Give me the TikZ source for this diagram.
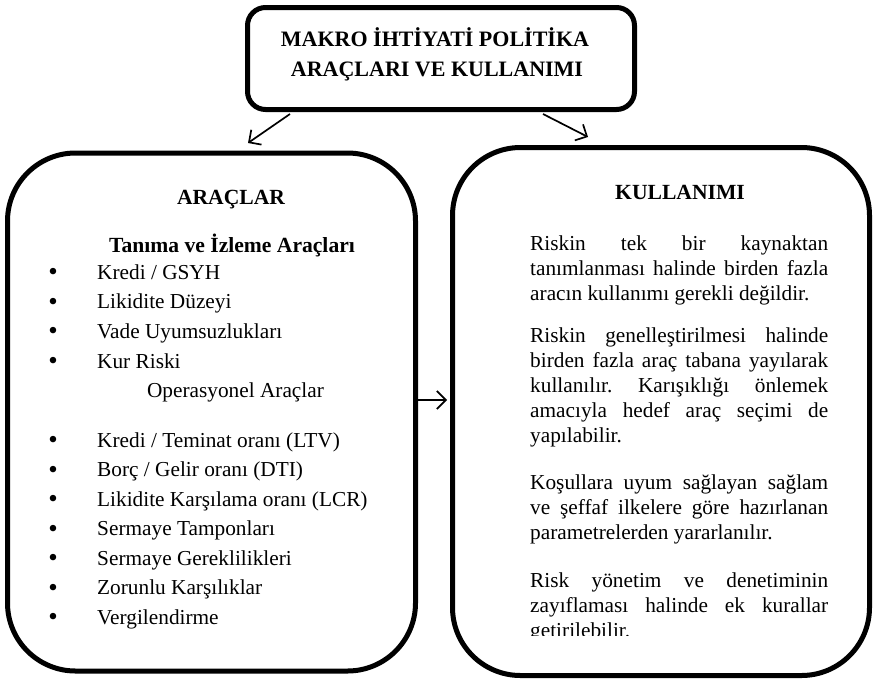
\documentclass[tikz,border=0pt]{standalone}
\usepackage{fontspec}
\setmainfont{Liberation Serif}
\usetikzlibrary{arrows.meta}
\frenchspacing
\begin{document}
\begin{tikzpicture}[x=1pt,y=-1pt,
  panel/.style={draw, line width=5pt, inner sep=0pt},
  link/.style={line width=1.7pt, -{Straight Barb[length=9pt,width=18pt,line width=1.7pt]}},
  txt/.style={inner sep=0pt, font=\fontsize{21.3}{25}\selectfont},
  head/.style={inner sep=0pt, font=\fontsize{21.6}{25}\selectfont\bfseries},
  title/.style={inner sep=0pt, font=\fontsize{22}{26}\selectfont\bfseries, anchor=base},
  item/.style={txt, anchor=base west},
  dot/.style={inner sep=0pt, font=\fontsize{27}{27}\selectfont, anchor=base},
  para/.style={txt, anchor=base west, text width=298pt, align=justify}
]
\useasboundingbox (0,0) rectangle (874,680);

% panels
\node[panel, rounded corners=18pt, minimum width=387pt, minimum height=102pt] (top) at (441,58.5) {};
\node[panel, rounded corners=68pt, minimum width=408pt, minimum height=518pt] (left) at (211.5,412) {};
\node[panel, rounded corners=68pt, minimum width=417pt, minimum height=528pt] (right) at (661,411.5) {};

% title
\node[title] (t1) at (435,46) {MAKRO İHTİYATİ POLİTİKA};
\node[title] (t2) at (437,76) {ARAÇLARI VE KULLANIMI};

% connectors
\coordinate (a1s) at (290,114);
\coordinate (a1e) at (248,143);
\coordinate (a2s) at (543,114);
\coordinate (a2e) at (588,137);
\coordinate (a3e) at (447,400);
\draw[link] (a1s) -- (a1e);
\draw[link] (a2s) -- (a2e);
\draw[link] (left.east |- a3e) -- (a3e);

% left panel
\node[head, anchor=base] (lh) at (231,204) {ARAÇLAR};
\node[head, anchor=base] (ls1) at (232,252) {Tanıma ve İzleme Araçları};
\foreach \y/\t in {279/{Kredi / GSYH}, 308.7/{Likidite Düzeyi}, 338.4/{Vade Uyumsuzlukları}, 368.1/{Kur Riski},
                   447/{Kredi / Teminat oranı (LTV)}, 476.5/{Borç / Gelir oranı (DTI)},
                   506/{Likidite Karşılama oranı (LCR)}, 535.5/{Sermaye Tamponları},
                   565/{Sermaye Gereklilikleri}, 594.5/{Zorunlu Karşılıklar}, 624/{Vergilendirme}}{
  \node[dot] at (53,\y+1.5) {•};
  \node[item] at (97,\y) {\t};
}
\node[txt, anchor=base] (ls2) at (235.5,397) {Operasyonel Araçlar};

% right panel
\node[head, anchor=base] (rh) at (680,199) {KULLANIMI};
\node[para] (p1) at (530,250) {Riskin tek bir kaynaktan\linebreak tanımlanması halinde birden fazla\linebreak aracın kullanımı gerekli değildir.};
\node[para] (p2) at (530,342) {Riskin genelleştirilmesi halinde\linebreak birden fazla araç tabana yayılarak\linebreak kullanılır. Karışıklığı önlemek\linebreak amacıyla hedef araç seçimi de\linebreak yapılabilir.};
\node[para] (p3) at (530,489) {Koşullara uyum sağlayan sağlam\linebreak ve şeffaf ilkelere göre hazırlanan\linebreak parametrelerden yararlanılır.};
\begin{scope}
  \clip (520,560) rectangle (840,635);
  \node[para] (p4) at (530,587) {Risk yönetim ve denetiminin\linebreak zayıflaması halinde ek kurallar\linebreak getirilebilir.};
\end{scope}
\end{tikzpicture}
\end{document}
